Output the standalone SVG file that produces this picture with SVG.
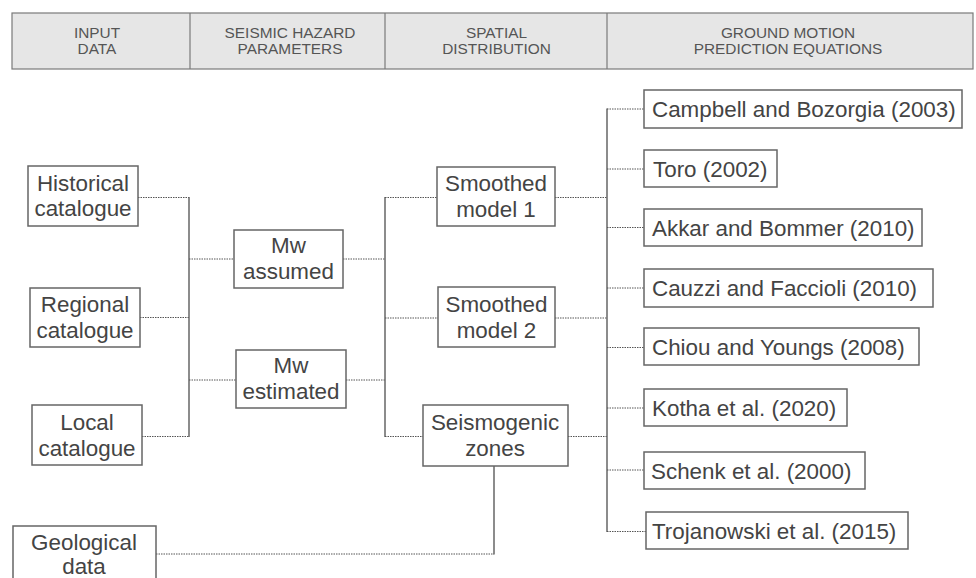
<svg xmlns="http://www.w3.org/2000/svg" width="976" height="578" viewBox="0 0 976 578">
<style>
.hdr{fill:#e6e6e6;stroke:#7a7a7a;stroke-width:1.2}
.hl{stroke:#7a7a7a;stroke-width:1.2}
.ht{font-family:"Liberation Sans",Arial,sans-serif;font-size:15.4px;fill:#555;text-anchor:middle}
.box{fill:#fff;stroke:#666;stroke-width:1.5}
.t{font-family:"Liberation Sans",Arial,sans-serif;font-size:22.4px;fill:#444;text-anchor:middle}
.tl{font-family:"Liberation Sans",Arial,sans-serif;font-size:22.4px;fill:#444;text-anchor:start}
.dot{stroke:#555;stroke-width:1;stroke-dasharray:1.5 1;fill:none}
.bus{stroke:#666;stroke-width:1.5;fill:none}
</style>
<rect width="976" height="578" fill="#fff"/>
<g id="header">
<rect class="hdr" x="12" y="13" width="961" height="56"/>
<line class="hl" x1="190" y1="13" x2="190" y2="69"/>
<line class="hl" x1="385" y1="13" x2="385" y2="69"/>
<line class="hl" x1="607" y1="13" x2="607" y2="69"/>
<text class="ht" x="97" y="37.5">INPUT</text>
<text class="ht" x="97" y="54">DATA</text>
<text class="ht" x="290" y="37.5">SEISMIC HAZARD</text>
<text class="ht" x="290" y="54">PARAMETERS</text>
<text class="ht" x="496.5" y="37.5">SPATIAL</text>
<text class="ht" x="496.5" y="54">DISTRIBUTION</text>
<text class="ht" x="788" y="37.5">GROUND MOTION</text>
<text class="ht" x="788" y="54">PREDICTION EQUATIONS</text>
</g>
<g id="connectors">
<line class="dot" x1="138" y1="197.5" x2="189" y2="197.5"/>
<line class="dot" x1="140" y1="317.5" x2="189" y2="317.5"/>
<line class="dot" x1="142" y1="436.5" x2="189" y2="436.5"/>
<line class="bus" x1="189" y1="197" x2="189" y2="437"/>
<line class="dot" x1="189" y1="259" x2="234" y2="259"/>
<line class="dot" x1="189" y1="380" x2="236" y2="380"/>
<line class="dot" x1="343" y1="259" x2="385" y2="259"/>
<line class="dot" x1="346" y1="380" x2="385" y2="380"/>
<line class="bus" x1="385" y1="197" x2="385" y2="437"/>
<line class="dot" x1="385" y1="197.5" x2="437" y2="197.5"/>
<line class="dot" x1="385" y1="318" x2="438" y2="318"/>
<line class="dot" x1="385" y1="436.5" x2="423" y2="436.5"/>
<line class="dot" x1="555" y1="197.5" x2="607" y2="197.5"/>
<line class="dot" x1="555" y1="318" x2="607" y2="318"/>
<line class="dot" x1="568" y1="436.5" x2="607" y2="436.5"/>
<line class="bus" x1="607" y1="108.5" x2="607" y2="532"/>
<line class="dot" x1="607" y1="109" x2="644" y2="109"/>
<line class="dot" x1="607" y1="169" x2="644" y2="169"/>
<line class="dot" x1="607" y1="227.5" x2="644" y2="227.5"/>
<line class="dot" x1="607" y1="288" x2="644" y2="288"/>
<line class="dot" x1="607" y1="347.5" x2="644" y2="347.5"/>
<line class="dot" x1="607" y1="408" x2="644" y2="408"/>
<line class="dot" x1="607" y1="470" x2="644" y2="470"/>
<line class="dot" x1="607" y1="531.5" x2="646" y2="531.5"/>
<line class="dot" x1="156" y1="554" x2="494" y2="554"/>
<line class="bus" x1="494" y1="466" x2="494" y2="554.5"/>
</g>
<g id="historical"><rect class="box" x="28" y="166" width="110" height="60"/><text class="t" x="83" y="191">Historical</text><text class="t" x="83" y="216">catalogue</text></g>
<g id="regional"><rect class="box" x="30" y="288" width="110" height="59"/><text class="t" x="85" y="312">Regional</text><text class="t" x="85" y="338">catalogue</text></g>
<g id="local"><rect class="box" x="32" y="405" width="110" height="60"/><text class="t" x="87" y="430">Local</text><text class="t" x="87" y="456">catalogue</text></g>
<g id="geological"><rect class="box" x="13" y="526" width="143" height="70"/><text class="t" x="84" y="550">Geological</text><text class="t" x="84" y="574">data</text></g>
<g id="mw-assumed"><rect class="box" x="234" y="230" width="109" height="58"/><text class="t" x="288.5" y="253">Mw</text><text class="t" x="288.5" y="279">assumed</text></g>
<g id="mw-estimated"><rect class="box" x="236" y="350" width="110" height="58"/><text class="t" x="291" y="373">Mw</text><text class="t" x="291" y="399">estimated</text></g>
<g id="smoothed1"><rect class="box" x="437" y="167" width="118" height="59"/><text class="t" x="496" y="191">Smoothed</text><text class="t" x="496" y="217">model 1</text></g>
<g id="smoothed2"><rect class="box" x="438" y="287" width="117" height="60"/><text class="t" x="496.5" y="312">Smoothed</text><text class="t" x="496.5" y="338">model 2</text></g>
<g id="seismogenic"><rect class="box" x="423" y="405" width="145" height="61"/><text class="t" x="495" y="430">Seismogenic</text><text class="t" x="495" y="456">zones</text></g>
<g id="campbell"><rect class="box" x="644" y="90" width="318" height="38"/><text class="tl" x="652" y="117">Campbell and Bozorgia (2003)</text></g>
<g id="toro"><rect class="box" x="644" y="150" width="133" height="37"/><text class="tl" x="653" y="177">Toro (2002)</text></g>
<g id="akkar"><rect class="box" x="644" y="209" width="278" height="37"/><text class="tl" x="652" y="236">Akkar and Bommer (2010)</text></g>
<g id="cauzzi"><rect class="box" x="644" y="269" width="289" height="38"/><text class="tl" x="652" y="296">Cauzzi and Faccioli (2010)</text></g>
<g id="chiou"><rect class="box" x="644" y="328" width="275" height="37"/><text class="tl" x="652" y="355">Chiou and Youngs (2008)</text></g>
<g id="kotha"><rect class="box" x="644" y="389" width="203" height="37"/><text class="tl" x="652" y="416">Kotha et al. (2020)</text></g>
<g id="schenk"><rect class="box" x="644" y="452" width="221" height="37"/><text class="tl" x="651" y="479">Schenk et al. (2000)</text></g>
<g id="trojanowski"><rect class="box" x="646" y="512" width="262" height="37"/><text class="tl" x="652" y="539">Trojanowski et al. (2015)</text></g>
</svg>
